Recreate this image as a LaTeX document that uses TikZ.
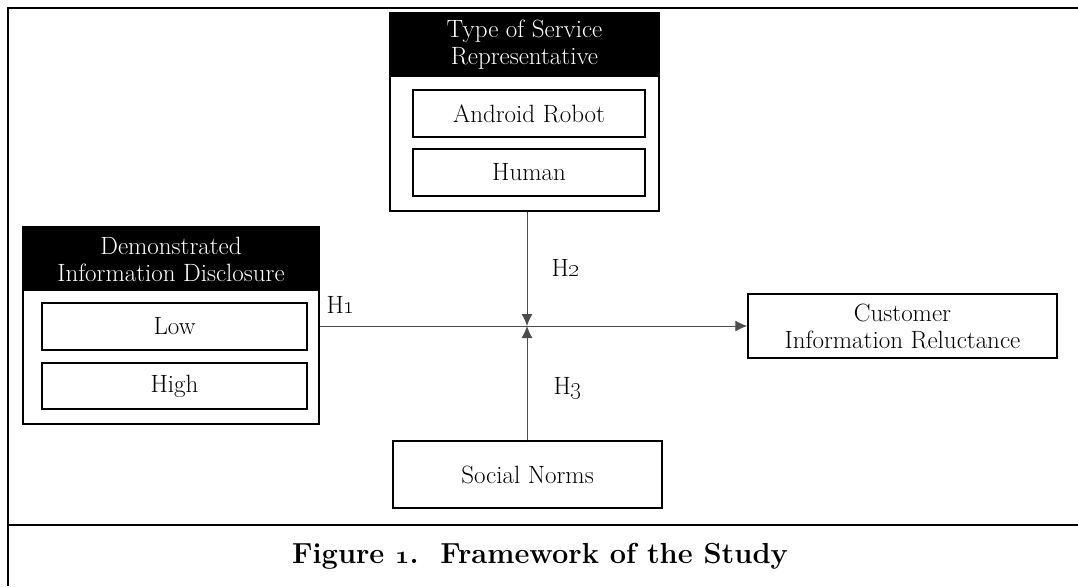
\documentclass[tikz,border=0pt]{standalone}
\usepackage{tikz}
\usetikzlibrary{arrows.meta}
\newcommand\boldosf[1]{{\usefont{OML}{cmm}{b}{it}#1}}

\begin{document}
\begin{tikzpicture}[x=1pt, y=-1pt, >={Latex[length=12pt,width=11pt]},
    box/.style={draw, line width=1.5pt, inner sep=0pt},
    head/.style={fill=black, text=white, inner sep=0pt, align=center, font=\fontsize{25}{27}\selectfont},
    level/.style={draw, line width=1.5pt, inner sep=0pt, align=center, font=\fontsize{25}{27}\selectfont},
    link/.style={line width=1pt, draw=black!70},
    hyp/.style={font=\fontsize{25}{27}\selectfont}]
  \useasboundingbox (0,0) rectangle (1078,586);
  % frame
  \draw[line width=2.5pt] (1078,8) -- (8,8) -- (8,586);
  \draw[line width=2.5pt] (8,525) -- (1078,525);

  % type of service representative
  \node[box, minimum width=269pt, minimum height=198pt] (srv) at (524.5,112) {};
  \node[head, minimum width=269pt, minimum height=64pt] (srvhead) at (524.5,45) {Type of Service\\Representative};
  \node[level, minimum width=232pt, minimum height=47pt] (robot) at (529,113.5) {Android Robot};
  \node[level, minimum width=232pt, minimum height=47pt] (human) at (529,172.5) {Human};

  % demonstrated information disclosure
  \node[box, minimum width=296pt, minimum height=197pt] (dis) at (171,325.5) {};
  \node[head, minimum width=296pt, minimum height=64pt] (dishead) at (171,259) {Demonstrated\\Information Disclosure};
  \node[level, minimum width=265pt, minimum height=47pt] (low) at (174.5,326.5) {Low};
  \node[level, minimum width=265pt, minimum height=46pt] (high) at (174.5,386) {High};

  % outcome and moderator
  \node[level, minimum width=309pt, minimum height=64pt] (rel) at (902.5,326) {Customer\\Information Reluctance};
  \node[level, minimum width=269pt, minimum height=67pt] (norms) at (527.5,474.5) {Social Norms};

  \coordinate (mid) at (527,326);
  \draw[link, ->] (dis.east |- mid) -- (rel.west |- mid);
  \draw[link, ->] (srv.south -| mid) -- (mid);
  \draw[link, ->] (norms.north -| mid) -- (mid);

  \node[hyp] (h1) at (341,305) {H\oldstylenums{1}};
  \node[hyp] (h2) at (566,268) {H\oldstylenums{2}};
  \node[hyp] (h3) at (568,388) {H\oldstylenums{3}};

  \node[font=\fontsize{29}{32}\selectfont\bfseries] (cap) at (540,556) {Figure \boldosf{1}.\ \ Framework of the Study};
\end{tikzpicture}
\end{document}
